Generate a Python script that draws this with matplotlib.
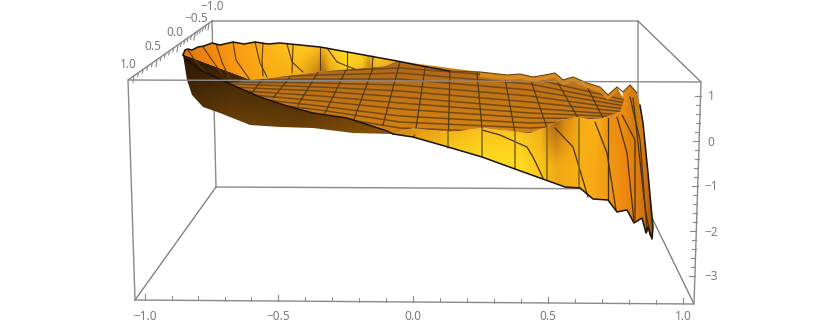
import numpy as np
import matplotlib
matplotlib.use("Agg")
import matplotlib.pyplot as plt
from matplotlib.patches import Polygon
from matplotlib.colors import to_rgb

plt.rcParams['font.family'] = ['Noto Sans', 'DejaVu Sans']

rim_back = [(183, 55), (185, 50), (188, 49), (192, 50), (198, 47), (204, 46), (212, 43), (220, 45), (233, 42), (244, 44),
            (255, 42), (268, 44), (280, 43), (300, 45), (320, 47), (353, 53), (397, 61), (427, 67), (450, 71),
            (480, 72), (507, 75), (520, 74), (533, 77), (545, 75), (555, 73), (563, 80), (573, 77), (587, 83),
            (600, 87), (608, 95), (617, 87), (623, 92), (630, 85), (637, 93)]
right_side = [(640, 105), (643, 123), (648, 173), (653, 227), (652, 239), (648, 227), (646, 233), (642, 218),
              (634, 223), (627, 210), (617, 212), (608, 200), (593, 199), (580, 188), (565, 187)]
front_low = [(515, 169), (482, 157), (448, 147), (413, 137), (393, 134)]
front_edge = [(387, 131), (347, 118), (313, 113), (287, 106), (260, 97), (237, 87), (217, 78), (200, 70), (187, 60),
              (183, 55)]
under_low = [(187, 80), (192, 95), (203, 107), (220, 113), (250, 125), (280, 127), (313, 128), (353, 133), (393, 134)]
disc_back = [(230, 83), (253, 80), (287, 76), (317, 72), (353, 69), (385, 66), (397, 61)]
disc_front = [(413, 128), (430, 130), (450, 132), (482, 128), (500, 130), (530, 133), (547, 127), (560, 120),
              (577, 117), (590, 119), (603, 118), (620, 112), (624, 100)]
end_peak = [(623, 92), (630, 85), (637, 93)]

wall_x = [183, 200, 215, 240, 270, 300, 316, 322, 330, 345, 362, 368, 376, 400, 430]
wall_top = ['#e07a10', '#ec8210', '#f58c10', '#fb9f14', '#fdb41a', '#ffca20', '#fbbc1c', '#f4b018', '#ffc81c',
            '#ffe024', '#ffdc22', '#f4bc1a', '#ffd01e', '#f8a815', '#e89410']
wall_bot = ['#c86c10', '#e07c10', '#f0860f', '#f59c12', '#f8ac14', '#f4a810', '#c07410', '#8a5010', '#e8a014',
            '#f8c018', '#eca814', '#a86810', '#eeaa16', '#dc9010', '#c88010']
under_x = [183, 230, 300, 393]
under_top = ['#2e1a06', '#341e06', '#341e06', '#452808']
under_bot = ['#5a3508', '#704408', '#6a4008', '#8a5408']
disc_x = [230, 330, 450, 560, 625]
disc_top = ['#b86e18', '#b06a18', '#b0681a', '#b86c1a', '#c07218']
disc_bot = ['#d4800f', '#d27e0f', '#d8850f', '#d0800f', '#c87a12']
front_x = [393, 420, 450, 480, 520, 540, 550, 556, 565, 580, 595, 608, 622, 636, 646, 654]
front_top = ['#c87a12', '#e09010', '#f0a614', '#f8b81a', '#f8bc1a', '#f0a814', '#b86c10', '#a86010', '#d88810',
             '#f6ac14', '#fab215', '#ea9012', '#f08c10', '#c87a12', '#e08a10', '#904f08']
front_bot = ['#e09a12', '#f6c21a', '#fcd81f', '#ffe022', '#ffdc20', '#fcc51a', '#f4b418', '#f0a816', '#f4ac14',
             '#f8b014', '#f8a814', '#f09a14', '#f08a10', '#e07f10', '#c87010', '#7a4408']

# box corners
box_x = [135, 694, 701, 128, 135]
box_y = [300, 304, 82, 80, 300]
back_x = [212, 638, 638, 216, 212]
back_y = [21, 21, 189, 187, 21]
edge_starts = [(128, 80), (701, 82), (135, 300), (694, 304)]
edge_ends = [(212, 21), (638, 21), (216, 187), (638, 189)]

# tick values and where they land
x_major = [-1.0, -0.5, 0.0, 0.5, 1.0]
x_major_px = [145, 278, 413, 548, 683]
y_major = [1.0, 0.5, 0.0, -0.5, -1.0]
y_major_px = [134, 157, 178, 195, 209]
z_major = [1, 0, -1, -2, -3]
z_major_py = [96, 141, 186, 231, 276]
x_labels = ['\u22121.0', '\u22120.5', '0.0', '0.5', '1.0']
y_labels = ['1.0', '0.5', '0.0', '\u22120.5', '\u22121.0']
z_labels = ['1', '0', '\u22121', '\u22122', '\u22123']
y_label_pos = [(128, 65), (153, 47), (175, 32), (196, 19), (212, 7)]

# mesh lines on the flat part: y pixel of each line at disc_line_x
disc_line_x = [230, 320, 400, 530, 625]
disc_lines = [[76, 71, 68, 78, 100], [78, 75, 73, 84, 103], [80, 79, 79, 90, 106], [82, 83, 85, 96, 109],
              [84, 87, 91, 102, 112], [87, 91, 97, 108, 115], [90, 96, 103, 113, 117], [93, 101, 109, 118, 119],
              [96, 106, 116, 123, 121], [99, 110, 122, 128, 123], [102, 115, 128, 133, 125]]
meridians = [
    [(347, 68), (325, 113)], [(318, 72), (298, 105)], [(290, 77), (273, 98)], [(263, 78), (252, 93)],
    [(373, 68), (353, 122)], [(400, 62), (383, 125)], [(425, 68), (415, 135)], [(450, 70), (448, 148)],
    [(477, 73), (482, 128)], [(505, 78), (515, 133)], [(530, 78), (547, 128)], [(558, 83), (578, 118)],
    [(585, 83), (603, 118)],
]
wall_lines = [
    [(188, 50), (196, 62), (208, 74)], [(203, 47), (212, 60), (222, 74)], [(216, 44), (222, 62), (231, 82)],
    [(233, 42), (236, 60), (250, 80)], [(255, 42), (260, 63), (267, 77)], [(263, 43), (262, 60), (263, 76)],
    [(287, 44), (292, 62), (303, 72)], [(293, 45), (292, 73)], [(320, 47), (320, 70)],
    [(327, 48), (337, 62), (357, 70)], [(347, 52), (347, 69)], [(373, 56), (372, 69)],
]
front_lines = [
    [(482, 130), (500, 135), (527, 147), (533, 157), (543, 178)], [(555, 128), (573, 147), (588, 197)],
    [(595, 122), (607, 153), (616, 210)], [(608, 118), (608, 200)], [(617, 117), (627, 153), (634, 222)],
    [(622, 115), (635, 140), (635, 220)], [(630, 97), (640, 140), (647, 232)], [(633, 98), (645, 207), (650, 235)],
]
olive_lines = [[(415, 135), (413, 137)], [(448, 130), (448, 148)], [(482, 128), (482, 157)], [(515, 132), (515, 169)],
               [(547, 128), (547, 180)], [(579, 118), (579, 188)]]


def blend(x_stops, colors):
    rgb = np.array([to_rgb(c) for c in colors])
    xs = np.arange(840)
    return np.stack([np.interp(xs, x_stops, rgb[:, i]) for i in range(3)], axis=1)


def fill(ax, outline, x_stops, top_cols, bot_cols, y0, y1, z):
    top = blend(x_stops, top_cols)
    bot = blend(x_stops, bot_cols)
    t = np.clip((np.arange(327) - y0) / (y1 - y0), 0, 1)[:, None, None]
    img = top[None, :, :] * (1 - t) + bot[None, :, :] * t
    im = ax.imshow(img, extent=(0, 840, 327, 0), aspect='auto', zorder=z, interpolation='bilinear')
    patch = Polygon(outline, closed=True, transform=ax.transData, fc='none', ec='none')
    ax.add_patch(patch)
    im.set_clip_path(patch)
    return patch


def path(ax, pts, color, lw, z, clip=None):
    xs = [p[0] for p in pts]
    ys = [p[1] for p in pts]
    line, = ax.plot(xs, ys, color=color, lw=lw, zorder=z, solid_capstyle='round')
    if clip is not None:
        line.set_clip_path(clip)


fig = plt.figure(figsize=(8.4, 3.27), dpi=100)
ax = fig.add_axes([0, 0, 1, 1])

GREY = '#8a8a8a'
path(ax, list(zip(back_x, back_y)), GREY, 1.0, 1)
for a, b in zip(edge_starts, edge_ends):
    path(ax, [a, b], '#777777', 0.9, 1)

# surface pieces, back to front
wall = rim_back[:20] + disc_back[::-1]
fill(ax, wall, wall_x, wall_top, wall_bot, 48, 80, 2)
under = [(183, 55)] + under_low + front_edge[::-1]
fill(ax, under, under_x, under_top, under_bot, 60, 130, 3)
front = disc_front[:-1] + end_peak + right_side + front_low
fill(ax, front, front_x, front_top, front_bot, 118, 165, 3)
disc = disc_back + rim_back[16:31] + [disc_front[-1]] + disc_front[::-1] + front_low[-1:] + front_edge[:6]
clip_disc = fill(ax, disc, disc_x, disc_top, disc_bot, 66, 130, 4)

for ys in disc_lines:
    path(ax, list(zip(disc_line_x, ys)), '#74491a', 1.1, 5, clip_disc)
for m in meridians:
    path(ax, m, '#4f3a14', 0.9, 5, clip_disc)
for w in wall_lines:
    path(ax, w, '#5a3a0c', 0.8, 4)
for f in front_lines:
    path(ax, f, '#4a300a', 0.9, 5)
for o in olive_lines:
    path(ax, o, '#7d6a18', 1.1, 5)

# ragged orange lip on the far right of the rim
lip = rim_back[19:31] + [(p[0], p[1] + 5) for p in rim_back[19:31]][::-1]
ax.add_patch(Polygon(lip, closed=True, fc='#d88a1c', ec='none', zorder=5))

# outlines
path(ax, rim_back[:19], '#1a1208', 1.1, 6)
path(ax, rim_back[18:], '#6a4210', 0.8, 6)
path(ax, right_side + front_low, '#1a1208', 1.1, 6)
path(ax, front_low[-1:] + front_edge, '#1a1208', 1.1, 6)

# front of the box goes over the surface
path(ax, list(zip(box_x, box_y)), GREY, 1.0, 7)

for v, px in zip(x_major, x_major_px):
    py = np.interp(px, [135, 694], [300, 304])
    ax.plot([px, px], [py, py - 6], color=GREY, lw=0.8, zorder=7)
    ax.text(px, 316, x_labels[x_major.index(v)], ha='center', va='center', fontsize=8.5, color='#7a7a7a')
x_minor = np.arange(-1.0, 1.01, 0.1)
for v in x_minor:
    px = np.interp(v, x_major, x_major_px)
    py = np.interp(px, [135, 694], [300, 304])
    ax.plot([px, px], [py, py - 4], color=GREY, lw=0.7, zorder=7)

y_minor = np.arange(-1.0, 1.01, 0.1)
for v in y_minor:
    px = np.interp(v, y_major[::-1], y_major_px[::-1])
    py = np.interp(px, [128, 212], [80, 21])
    size = 7 if round(v * 10) % 5 == 0 else 4
    ax.plot([px, px - 1], [py, py + size], color=GREY, lw=0.8, zorder=7)
for txt, pos in zip(y_labels, y_label_pos):
    ax.text(pos[0], pos[1], txt, ha='center', va='center', fontsize=8.5, color='#7a7a7a')

z_minor = np.arange(-3.4, 1.21, 0.2)
for v in z_minor:
    py = np.interp(v, z_major[::-1], z_major_py[::-1])
    px = np.interp(py, [82, 304], [701, 694])
    size = 6 if abs(v - round(v)) < 0.01 else 4
    ax.plot([px - size, px], [py, py], color=GREY, lw=0.8, zorder=7)
for txt, py in zip(z_labels, z_major_py):
    ax.text(711, py + 1, txt, ha='center', va='center', fontsize=8.5, color='#7a7a7a')

ax.set_xlim(0, 840)
ax.set_ylim(327, 0)
ax.axis('off')
fig.savefig('out.png', dpi=100)
